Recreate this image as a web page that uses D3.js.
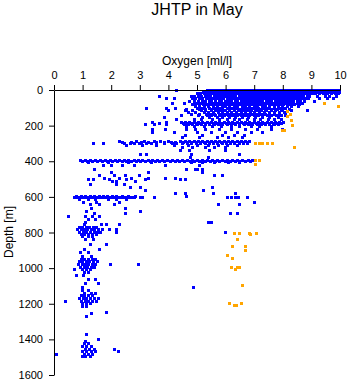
<!DOCTYPE html>
<html>
<head>
<meta charset="utf-8">
<script src="https://cdn.jsdelivr.net/npm/d3@7"></script>
<style>
  body { margin: 0; background: #fff; }
  svg { display: block; }
  text { font-family: "Liberation Sans", Arial, sans-serif; }
</style>
</head>
<body>
<svg id="chart" width="348" height="384"></svg>
<script>
// Oxygen profiles: each row is [depth in m, oxygen readings in ml/l at that depth]
const castsUpper = [
  [0, [4.28, 5.36, 5.41, 5.5, 5.57, 5.66, 5.72, 5.8, 5.89, 5.95, 6.03, 6.1, 6.2, 6.26, 6.35, 6.41, 6.5, 6.58, 6.64, 6.73, 6.8, 6.88, 6.97, 7.02, 7.11, 7.19, 7.25, 7.34, 7.42, 7.48, 7.57, 7.63, 7.72, 7.8, 7.86, 7.95, 8.03, 8.09, 8.18, 8.26, 8.32, 8.41, 8.47, 8.56, 8.64, 8.7, 8.79, 8.87, 8.93, 9.02, 9.1, 9.17, 9.25, 9.33, 9.4, 9.48, 9.56, 9.63, 9.71, 9.79, 9.86, 9.93, 9.99]],
  [12, [5.22, 5.3, 5.38, 5.46, 5.53, 5.62, 5.69, 5.77, 5.86, 5.93, 6.0, 6.08, 6.17, 6.24, 6.31, 6.4, 6.47, 6.55, 6.63, 6.7, 6.79, 6.86, 6.94, 7.01, 7.09, 7.17, 7.24, 7.33, 7.4, 7.47, 7.55, 7.63, 7.71, 7.78, 7.86, 7.93, 8.01, 8.09, 8.16, 8.24, 8.32, 8.39, 8.47, 8.55, 8.62, 8.7, 8.78, 8.85, 8.93, 9.0, 9.08, 9.16, 9.23, 9.31, 9.38, 9.46, 9.54, 9.62, 9.69, 9.77, 9.85, 9.92, 9.98]],
  [22, [5.0, 5.12, 5.25, 5.33, 5.41, 5.48, 5.57, 5.64, 5.73, 5.8, 5.88, 5.97, 6.04, 6.13, 6.2, 6.28, 6.36, 6.44, 6.52, 6.6, 6.68, 6.76, 6.84, 6.91, 7.0, 7.07, 7.15, 7.23, 7.31, 7.39, 7.47, 7.55, 7.62, 7.7, 7.79, 7.86, 7.94, 8.02, 8.1, 8.18, 8.26, 8.33, 8.42, 8.5, 8.57, 8.66, 8.73, 8.82, 8.9, 8.97, 9.06, 9.15, 9.3, 9.42, 9.5, 9.58, 9.71, 9.86, 9.95]],
  [35, [3.7, 4.8, 4.93, 5.05, 5.15, 5.28, 5.37, 5.46, 5.6, 5.68, 5.77, 5.9, 5.98, 6.07, 6.18, 6.27, 6.36, 6.48, 6.56, 6.66, 6.75, 6.86, 6.95, 7.03, 7.12, 7.22, 7.3, 7.4, 7.5, 7.58, 7.68, 7.77, 7.86, 7.96, 8.05, 8.14, 8.24, 8.33, 8.42, 8.52, 8.62, 8.72, 8.85, 8.95, 9.2, 9.5, 9.65, 9.88]],
  [48, [3.95, 4.2, 4.85, 4.95, 5.1, 5.2, 5.32, 5.42, 5.55, 5.63, 5.75, 5.85, 5.94, 6.06, 6.15, 6.25, 6.33, 6.45, 6.53, 6.62, 6.72, 6.82, 6.9, 7.0, 7.1, 7.2, 7.28, 7.38, 7.46, 7.56, 7.66, 7.74, 7.84, 7.92, 8.02, 8.12, 8.2, 8.3, 8.4, 8.5, 8.6, 8.68, 8.8, 8.9, 9.3, 9.58, 9.76]],
  [62, [4.75, 4.9, 5.05, 5.18, 5.3, 5.45, 5.52, 5.66, 5.78, 5.86, 6.0, 6.1, 6.2, 6.34, 6.42, 6.55, 6.65, 6.76, 6.88, 6.98, 7.08, 7.2, 7.3, 7.42, 7.52, 7.62, 7.74, 7.84, 7.95, 8.05, 8.16, 8.28, 8.38, 8.5, 8.62, 8.75, 9.1]],
  [76, [4.15, 4.55, 4.9, 5.02, 5.15, 5.3, 5.42, 5.55, 5.7, 5.82, 5.95, 6.08, 6.2, 6.32, 6.45, 6.58, 6.7, 6.82, 6.95, 7.07, 7.2, 7.32, 7.45, 7.58, 7.7, 7.83, 7.95, 8.08, 8.22, 8.35, 8.5, 8.68]],
  [84, [4.85, 5.08, 5.22, 5.36, 5.5, 5.64, 5.78, 5.9, 6.04, 6.16, 6.28, 6.4, 6.52, 6.64, 6.76, 6.9, 7.02, 7.15, 7.27, 7.4, 7.52, 7.65, 7.78, 7.9, 8.03, 8.15, 8.28, 8.42, 8.6]],
  [90, [4.95, 5.1, 5.25, 5.4, 5.58, 5.72, 5.88, 6.0, 6.15, 6.3, 6.42, 6.58, 6.7, 6.85, 7.0, 7.12, 7.28, 7.4, 7.55, 7.7, 7.85, 8.0, 8.15, 8.3, 8.55]],
  [102, [3.25, 3.95, 4.25, 5.0, 5.2, 5.45, 5.6, 5.8, 6.05, 6.2, 6.4, 6.6, 6.75, 6.95, 7.15, 7.3, 7.5, 7.7, 7.9, 8.1]],
  [108, [4.65, 5.1, 5.3, 5.52, 5.7, 5.9, 6.12, 6.3, 6.5, 6.68, 6.85, 7.05, 7.22, 7.4, 7.6, 7.8, 8.0, 8.25]],
  [115, [4.0, 4.6, 4.85, 5.15, 5.3, 5.5, 5.65, 5.8, 5.98, 6.12, 6.3, 6.45, 6.6, 6.78, 6.92, 7.1, 7.25, 7.42, 7.6, 7.75, 7.95, 8.3, 8.85]],
  [128, [4.7, 4.95, 5.25, 5.4, 5.58, 5.75, 5.9, 6.08, 6.22, 6.38, 6.55, 6.7, 6.88, 7.02, 7.2, 7.35, 7.52, 7.7, 7.88, 8.05]],
  [135, [4.8, 5.1, 5.32, 5.46, 5.62, 5.78, 5.92, 6.04, 6.18, 6.32, 6.48, 6.62, 6.78, 6.94, 7.08, 7.24, 7.38, 7.55, 7.72, 7.9, 8.1]],
  [142, [4.45, 5.05, 5.35, 5.5, 5.65, 5.82, 5.95, 6.1, 6.25, 6.4, 6.55, 6.7, 6.85, 7.0, 7.15, 7.3, 7.45, 7.6, 7.78, 7.95, 8.1]],
  [156, [3.85, 5.2, 5.45, 5.7, 5.9, 6.15, 6.35, 6.6, 6.8, 7.05, 7.3, 7.55, 7.85]],
  [168, [4.3, 4.9, 5.15, 5.55, 5.8, 6.05, 6.3, 6.5, 6.75, 7.0, 7.22, 7.5, 7.7, 7.95]],
  [182, [3.45, 3.95, 4.45, 4.6, 4.75, 4.9, 5.05, 5.2, 5.35, 5.5, 5.65, 5.8, 5.95, 6.1, 6.25, 6.4, 6.55, 6.7, 6.85, 7.0, 7.15, 7.3, 7.45, 7.6, 7.75, 7.9, 8.02]],
  [188, [3.7, 4.52, 4.68, 4.82, 4.98, 5.12, 5.28, 5.42, 5.57, 5.72, 5.87, 6.02, 6.17, 6.32, 6.47, 6.62, 6.77, 6.92, 7.07, 7.22, 7.37, 7.52, 7.67, 7.82, 7.96]],
  [194, [3.2, 3.5, 3.95, 4.55, 4.7, 4.85, 5.0, 5.15, 5.3, 5.45, 5.6, 5.75, 5.9, 6.05, 6.2, 6.35, 6.5, 6.65, 6.8, 6.95, 7.1, 7.25, 7.4, 7.55, 7.7, 7.85]],
  [205, [4.65, 4.9, 5.25, 5.55, 5.85, 6.2, 6.5, 6.9, 7.2, 7.6]],
  [222, [3.45, 3.9, 4.65, 4.95, 5.3, 5.8, 6.2, 6.7, 7.1, 7.6, 8.0]],
  [238, [3.45, 4.2, 5.0, 5.5, 6.0, 6.4, 6.9, 7.3]],
  [255, [4.6, 5.2, 5.9, 6.3, 6.65]]
];

const castsMid = [
  [268, [4.5, 5.1, 5.7, 6.1, 6.6]],
  [290, [2.3, 2.9, 3.15, 3.5, 3.72, 4.0, 4.42, 4.6, 4.75, 4.9, 5.05, 5.2, 5.35, 5.5, 5.65, 5.8, 5.95, 6.1, 6.25, 6.4, 6.55, 6.7, 6.85]],
  [295, [2.4, 2.7, 3.05, 3.3, 3.6, 3.85, 4.1, 4.25, 4.52, 4.68, 4.82, 4.97, 5.12, 5.27, 5.42, 5.57, 5.72, 5.87, 6.02, 6.17, 6.32, 6.47, 6.62, 6.77]],
  [300, [1.38, 1.73, 2.45, 2.66, 2.8, 3.0, 3.25, 3.4, 3.6, 3.85, 4.15, 4.3, 4.5, 4.68, 4.82, 4.98, 5.12, 5.28, 5.42, 5.58, 5.72, 5.88, 6.02, 6.18, 6.32, 6.48, 6.62, 6.78]],
  [311, [2.55, 3.1, 3.6, 4.2, 4.7, 5.0, 5.4, 5.75, 6.05, 6.4]],
  [325, [4.5, 4.85, 5.3, 5.6, 6.0]],
  [340, [4.42, 4.75, 5.45, 6.0]],
  [362, [3.02, 3.25, 4.8, 6.5]],
  [378, [4.77, 5.4]],
  [396, [0.91, 1.1, 1.27, 1.45, 1.62, 1.8, 1.98, 2.15, 2.3, 2.45, 2.62, 2.8, 2.95, 3.1, 3.3, 3.45, 3.62, 3.8, 3.98, 4.15, 4.32, 4.5, 4.68, 4.85, 5.02, 5.2, 5.38, 5.55, 5.72, 5.9, 6.08, 6.25, 6.42, 6.6, 6.8, 6.95]],
  [402, [1.0, 1.18, 1.36, 1.53, 1.7, 1.88, 2.06, 2.23, 2.38, 2.54, 2.7, 2.88, 3.03, 3.2, 3.38, 3.54, 3.7, 3.88, 4.06, 4.24, 4.4, 4.58, 4.76, 4.93, 5.1, 5.28, 5.46, 5.63, 5.8, 5.98, 6.16, 6.34, 6.5, 6.7, 6.88]],
  [408, [1.2, 1.9, 2.6, 3.4, 4.8, 5.2, 5.6, 6.1, 6.5]],
  [425, [1.73, 2.0, 2.4, 2.8, 3.9, 5.1]],
  [445, [1.43, 4.65, 4.95, 5.0, 5.2]],
  [462, [2.0, 3.3, 5.18]],
  [478, [1.6, 2.1, 2.5, 3.0, 5.6, 5.88]],
  [495, [1.75, 2.3, 2.7, 3.3, 3.9, 4.25]],
  [503, [1.2, 1.38, 1.95, 2.55, 3.2, 4.42, 4.6]],
  [515, [2.05, 2.2, 2.85]],
  [532, [1.26, 2.2, 2.45]],
  [550, [2.66, 3.02, 5.53]],
  [565, [3.2, 5.24]],
  [582, [4.25, 4.6, 5.59, 6.36]],
  [596, [0.8, 0.95, 1.1, 1.27, 1.42, 1.58, 1.72, 1.88, 2.05, 2.2, 2.4, 2.6, 2.85, 4.63]],
  [601, [0.8, 0.96, 1.1, 1.25, 1.4, 1.57, 1.72, 1.87, 2.03, 2.2, 2.38, 2.6, 2.8, 3.1]],
  [606, [0.73, 0.88, 1.03, 1.18, 1.33, 1.5, 1.65, 1.8, 1.95, 2.12, 2.3, 2.5, 2.72, 3.02, 3.5, 6.06, 6.2, 6.33, 6.46, 6.77]],
  [616, [0.9, 1.2, 1.45, 1.9, 2.2, 2.55]],
  [630, [1.03, 1.5, 2.3, 7.0]],
  [645, [1.26, 1.6, 2.13, 5.75, 6.5]],
  [666, [1.3, 2.5]],
  [682, [1.15, 3.02]],
  [695, [1.4, 2.5, 6.18, 6.4]]
];

const castsDeep = [
  [712, [0.5, 1.1, 1.35, 1.6]],
  [728, [1.2, 1.45]],
  [742, [1.1, 5.4, 5.5]],
  [757, [1.05, 1.65, 1.85, 2.3]],
  [772, [0.88, 1.0, 1.12, 1.25, 1.38, 1.5]],
  [785, [0.82, 0.95, 1.07, 1.18, 1.3, 1.42, 1.55, 1.7, 1.95, 2.2]],
  [798, [0.9, 1.02, 1.15, 1.27, 1.4, 1.52, 1.62, 2.2, 6.0]],
  [810, [0.95, 1.08, 1.22, 1.35, 1.48]],
  [822, [1.0, 1.2, 1.35]],
  [840, [1.1, 1.38]],
  [870, [1.26, 1.85]],
  [896, [1.05, 1.6]],
  [915, [0.91, 1.2]],
  [935, [1.0, 1.3]],
  [950, [0.95, 1.08, 1.2, 1.35, 1.45]],
  [965, [0.9, 1.0, 1.12, 1.25, 1.38, 1.52]],
  [980, [0.85, 0.98, 1.1, 1.22, 1.33, 1.45, 1.96, 2.95]],
  [995, [0.92, 1.05, 1.18, 1.3, 1.42]],
  [1008, [0.7, 1.0, 1.15, 1.28]],
  [1022, [1.08, 1.22]],
  [1040, [0.8, 1.03]],
  [1062, [1.2, 1.45]],
  [1087, [1.1, 1.57]],
  [1111, [1.0, 4.87]],
  [1125, [0.98, 1.2]],
  [1140, [1.05, 1.3, 1.45]],
  [1155, [0.95, 1.08, 1.2, 1.35]],
  [1170, [0.9, 1.02, 1.15, 1.28, 1.42, 1.55]],
  [1186, [0.4, 0.95, 1.1, 1.22, 1.35, 1.5]],
  [1200, [1.0, 1.15, 1.28]],
  [1215, [0.98, 1.12]],
  [1248, [1.85]],
  [1256, [1.32]],
  [1271, [1.15]],
  [1374, [1.15]],
  [1398, [1.56]],
  [1410, [1.1]],
  [1425, [1.05, 1.2]],
  [1440, [1.0, 1.15, 1.3]],
  [1455, [1.1, 1.25, 1.4, 2.1]],
  [1470, [1.0, 1.15, 1.3, 1.45, 2.25]],
  [1483, [0.07, 1.05, 1.2, 1.35]],
  [1497, [1.0, 1.1, 1.28]]
];

// Second set of casts, drawn in orange
const castsOther = [
  [76, [9.45]], [95, [9.95]], [123, [8.17]], [140, [8.28]], [150, [8.16]],
  [170, [8.3]], [197, [8.33]], [225, [8.0, 8.05]],
  [300, [7.05, 7.2, 7.3, 7.45, 7.65]], [322, [8.4]],
  [398, [7.05, 7.2]], [420, [7.05]],
  [803, [6.3, 6.82, 7.08]], [806, [6.5]], [812, [6.87]], [840, [6.4]],
  [880, [6.23, 6.68]], [900, [6.68]], [930, [6.06]], [948, [6.23]],
  [999, [6.2, 6.43, 6.48]], [1008, [6.35]], [1098, [6.6]],
  [1200, [6.12, 6.55]], [1210, [6.3, 6.37]]
];

const oxygenTicks = [0, 1, 2, 3, 4, 5, 6, 7, 8, 9, 10];
const depthTicks = [0, 200, 400, 600, 800, 1000, 1200, 1400, 1600];

const titleText = "JHTP in May";
const xLabel = "Oxygen [ml/l]";
const yLabel = "Depth [m]";

const flatten = rows => rows.flatMap(([d, vals]) => vals.map(o => ({ o, d })));

const svg = d3.select("#chart");
const x = d3.scaleLinear().domain([0, 10]).range([54, 340]);
const y = d3.scaleLinear().domain([0, 1600]).range([90, 375]);

const font = '"Liberation Sans", Arial, sans-serif';

function drawPoints(rows, color) {
  svg.append("g")
    .attr("fill", color)
    .attr("shape-rendering", "crispEdges")
    .selectAll("rect")
    .data(flatten(rows))
    .join("rect")
    .attr("x", p => Math.round(x(p.o) - 1.5))
    .attr("y", p => Math.round(y(p.d) - 1.5))
    .attr("width", 3)
    .attr("height", 3);
}

drawPoints(castsUpper, "#0000ff");
drawPoints(castsMid, "#0000ff");
drawPoints(castsDeep, "#0000ff");
drawPoints(castsOther, "#ffa500");

// Axes
const xAxis = svg.append("g")
  .attr("transform", "translate(0,90)")
  .call(d3.axisTop(x).tickValues(oxygenTicks).tickSize(5).tickSizeOuter(0).tickPadding(6).tickFormat(d3.format("d")));
const yAxis = svg.append("g")
  .attr("transform", "translate(54,0)")
  .call(d3.axisLeft(y).tickValues(depthTicks).tickSize(5).tickSizeOuter(0).tickPadding(6).tickFormat(d3.format("d")));

[xAxis, yAxis].forEach(g => {
  g.attr("font-family", font).attr("font-size", 11);
  g.selectAll("text").attr("fill", "#000");
  g.selectAll("line, path").attr("stroke", "#000");
});

svg.append("text")
  .attr("x", 197).attr("y", 15)
  .attr("text-anchor", "middle")
  .attr("font-size", 16)
  .text(titleText);

svg.append("text")
  .attr("x", 197).attr("y", 65)
  .attr("text-anchor", "middle")
  .attr("font-size", 12)
  .text(xLabel);

svg.append("text")
  .attr("transform", "translate(12.5,232) rotate(-90)")
  .attr("text-anchor", "middle")
  .attr("font-size", 12)
  .text(yLabel);
</script>
</body>
</html>
